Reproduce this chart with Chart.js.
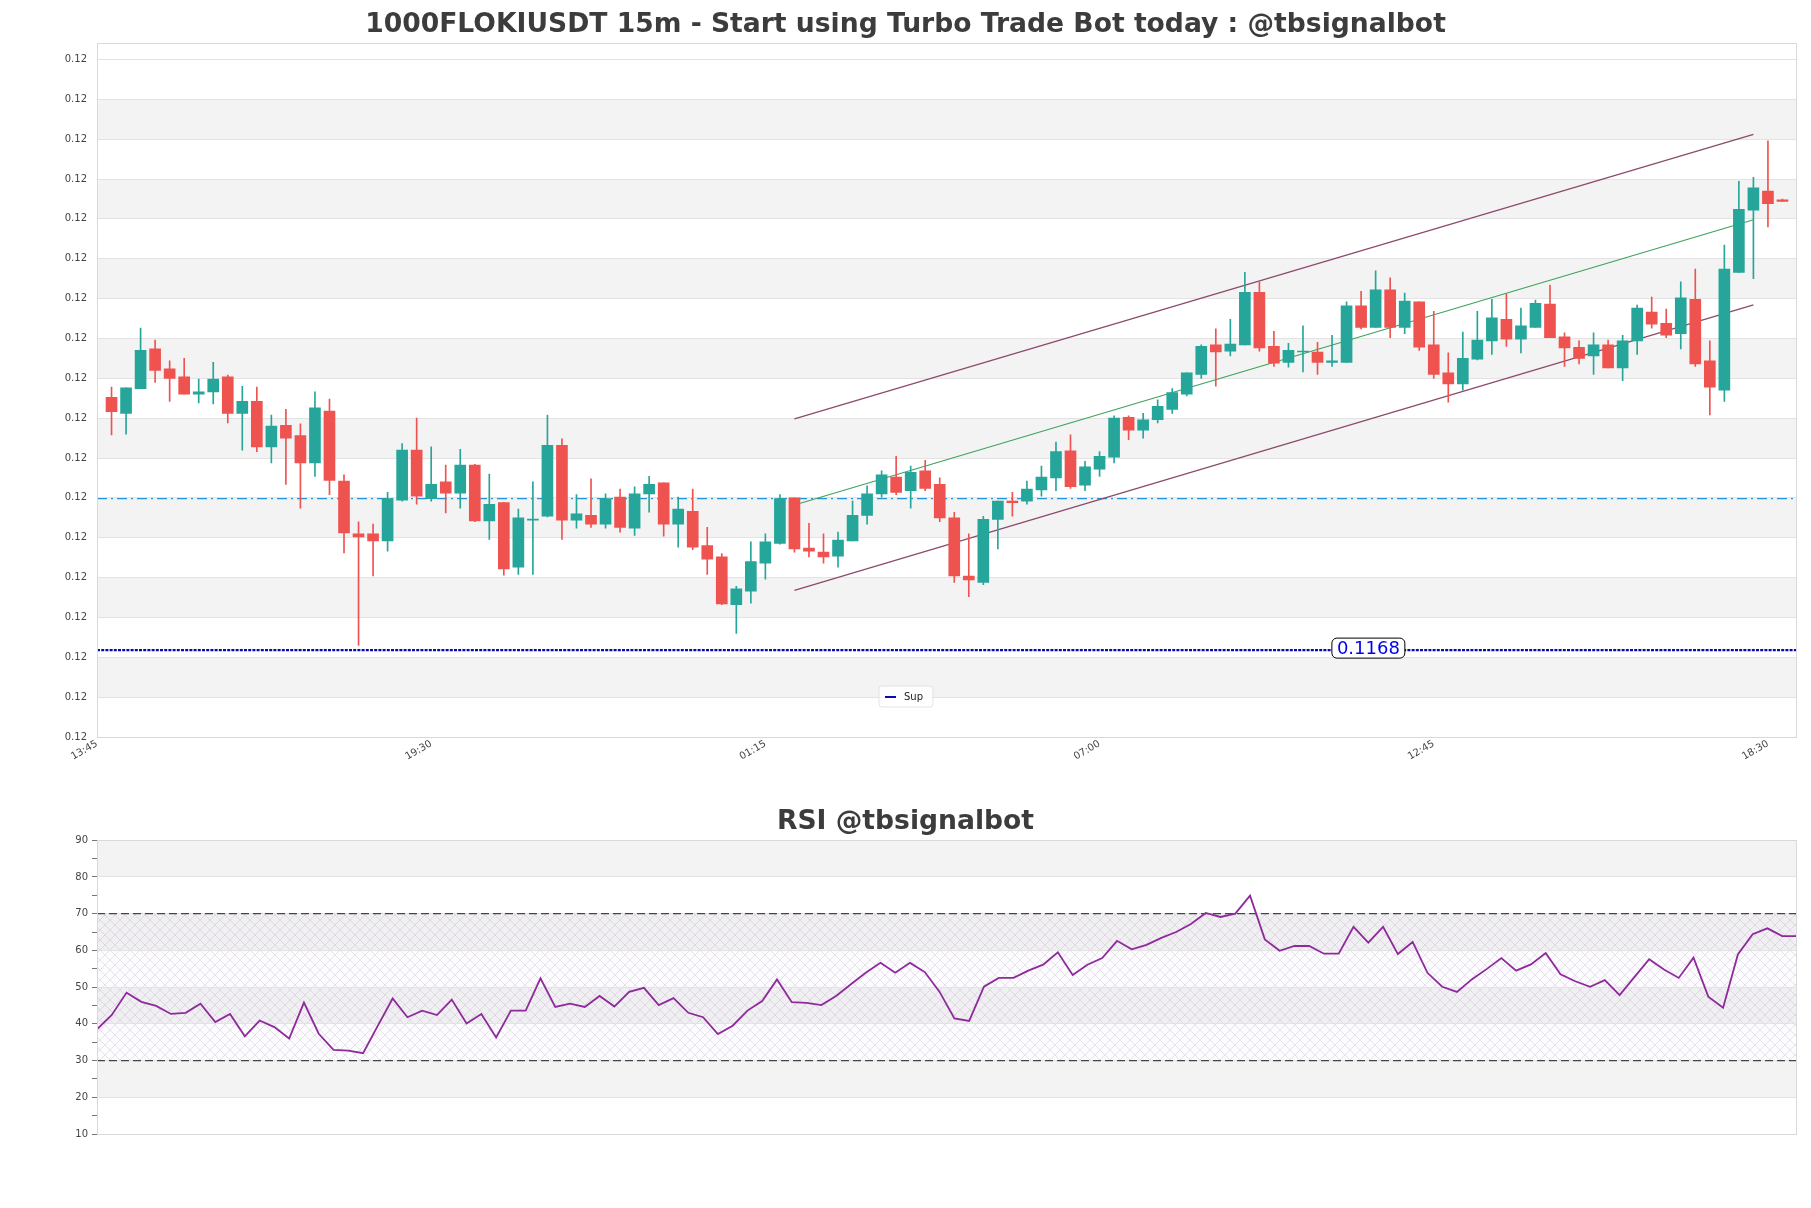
<!DOCTYPE html>
<html>
<head>
<meta charset="utf-8">
<title>1000FLOKIUSDT 15m</title>
<script src="https://cdn.jsdelivr.net/npm/chart.js@4.4.1/dist/chart.umd.min.js"></script>
<style>
    html, body { margin: 0; padding: 0; background: #ffffff; }
    canvas { display: block; }
</style>
</head>
<body>
<canvas id="priceChart" width="1811" height="790"></canvas>
<canvas id="rsiChart" width="1811" height="418"></canvas>
<script>
// === Data ===
var timeLabels = ['13:45', '19:30', '01:15', '07:00', '12:45', '18:30'];
var timeTickIdx = [0, 23, 46, 69, 92, 115];

// candles 1..116 (15m each)
var opens = [
    0.117076, 0.117056, 0.117087, 0.117137, 0.117112, 0.117102, 0.117080, 0.117083, 0.117102, 0.117056,
    0.117071, 0.117014, 0.117041, 0.117028, 0.116994, 0.117059, 0.116971, 0.116905, 0.116905, 0.116896,
    0.116947, 0.117010, 0.116949, 0.116970, 0.116956, 0.116991, 0.116921, 0.116944, 0.116863, 0.116922,
    0.116927, 0.117016, 0.116922, 0.116928, 0.116917, 0.116951, 0.116912, 0.116955, 0.116969, 0.116917,
    0.116933, 0.116890, 0.116876, 0.116816, 0.116833, 0.116868, 0.116893, 0.116950, 0.116887, 0.116882,
    0.116877, 0.116896, 0.116928, 0.116955, 0.116976, 0.116959, 0.116984, 0.116967, 0.116925, 0.116852,
    0.116844, 0.116923, 0.116946, 0.116946, 0.116960, 0.116975, 0.117009, 0.116966, 0.116986, 0.117001,
    0.117051, 0.117035, 0.117048, 0.117061, 0.117080, 0.117105, 0.117142, 0.117134, 0.117142, 0.117208,
    0.117140, 0.117120, 0.117133, 0.117133, 0.117120, 0.117120, 0.117191, 0.117164, 0.117211, 0.117164,
    0.117196, 0.117142, 0.117107, 0.117093, 0.117124, 0.117147, 0.117174, 0.117149, 0.117164, 0.117193,
    0.117152, 0.117139, 0.117128, 0.117142, 0.117113, 0.117147, 0.117183, 0.117169, 0.117156, 0.117199,
    0.117122, 0.117085, 0.117233, 0.117311, 0.117335, 0.117324
];
var highs = [
    0.117089, 0.117088, 0.117163, 0.117148, 0.117122, 0.117125, 0.117099, 0.117120, 0.117104, 0.117090,
    0.117089, 0.117054, 0.117061, 0.117043, 0.117083, 0.117074, 0.116979, 0.116920, 0.116917, 0.116957,
    0.117018, 0.117050, 0.117014, 0.116991, 0.117011, 0.116992, 0.116980, 0.116944, 0.116936, 0.116970,
    0.117054, 0.117024, 0.116954, 0.116974, 0.116955, 0.116961, 0.116964, 0.116977, 0.116969, 0.116951,
    0.116961, 0.116913, 0.116880, 0.116839, 0.116895, 0.116905, 0.116954, 0.116950, 0.116918, 0.116905,
    0.116907, 0.116946, 0.116965, 0.116984, 0.117002, 0.116990, 0.116997, 0.116975, 0.116932, 0.116905,
    0.116927, 0.116946, 0.116957, 0.116971, 0.116990, 0.117020, 0.117029, 0.116996, 0.117008, 0.117053,
    0.117053, 0.117056, 0.117073, 0.117087, 0.117107, 0.117142, 0.117162, 0.117174, 0.117233, 0.117221,
    0.117159, 0.117144, 0.117166, 0.117145, 0.117154, 0.117196, 0.117209, 0.117235, 0.117226, 0.117207,
    0.117196, 0.117184, 0.117132, 0.117158, 0.117184, 0.117199, 0.117206, 0.117188, 0.117198, 0.117217,
    0.117157, 0.117147, 0.117157, 0.117148, 0.117154, 0.117192, 0.117202, 0.117187, 0.117221, 0.117237,
    0.117147, 0.117267, 0.117347, 0.117352, 0.117398, 0.117325
];
var lows = [
    0.117029, 0.117030, 0.117087, 0.117095, 0.117071, 0.117080, 0.117069, 0.117068, 0.117044, 0.117010,
    0.117008, 0.116994, 0.116967, 0.116937, 0.116977, 0.116954, 0.116881, 0.116765, 0.116852, 0.116883,
    0.116946, 0.116942, 0.116946, 0.116931, 0.116937, 0.116920, 0.116898, 0.116853, 0.116854, 0.116854,
    0.116926, 0.116898, 0.116912, 0.116913, 0.116912, 0.116907, 0.116903, 0.116932, 0.116902, 0.116888,
    0.116885, 0.116854, 0.116816, 0.116780, 0.116818, 0.116848, 0.116892, 0.116882, 0.116876, 0.116868,
    0.116863, 0.116896, 0.116917, 0.116951, 0.116954, 0.116937, 0.116959, 0.116920, 0.116844, 0.116826,
    0.116841, 0.116886, 0.116927, 0.116942, 0.116952, 0.116959, 0.116962, 0.116959, 0.116977, 0.116994,
    0.117023, 0.117025, 0.117044, 0.117056, 0.117078, 0.117100, 0.117090, 0.117128, 0.117142, 0.117134,
    0.117115, 0.117114, 0.117108, 0.117105, 0.117115, 0.117120, 0.117162, 0.117164, 0.117151, 0.117156,
    0.117135, 0.117100, 0.117070, 0.117085, 0.117123, 0.117130, 0.117140, 0.117132, 0.117164, 0.117151,
    0.117115, 0.117118, 0.117105, 0.117113, 0.117097, 0.117130, 0.117163, 0.117151, 0.117137, 0.117115,
    0.117054, 0.117071, 0.117233, 0.117225, 0.117290, 0.117322
];
var closes = [
    0.117058, 0.117088, 0.117135, 0.117110, 0.117100, 0.117080, 0.117083, 0.117099, 0.117056, 0.117071,
    0.117014, 0.117040, 0.117025, 0.116994, 0.117063, 0.116972, 0.116906, 0.116901, 0.116896, 0.116949,
    0.117010, 0.116952, 0.116967, 0.116956, 0.116991, 0.116921, 0.116942, 0.116861, 0.116925, 0.116923,
    0.117016, 0.116922, 0.116930, 0.116917, 0.116949, 0.116913, 0.116955, 0.116967, 0.116917, 0.116936,
    0.116888, 0.116873, 0.116817, 0.116836, 0.116870, 0.116895, 0.116949, 0.116886, 0.116883, 0.116876,
    0.116897, 0.116928, 0.116955, 0.116979, 0.116957, 0.116982, 0.116962, 0.116925, 0.116852, 0.116847,
    0.116923, 0.116946, 0.116944, 0.116961, 0.116976, 0.117008, 0.116964, 0.116989, 0.117002, 0.117050,
    0.117035, 0.117048, 0.117065, 0.117082, 0.117107, 0.117140, 0.117133, 0.117143, 0.117208, 0.117138,
    0.117119, 0.117135, 0.117134, 0.117120, 0.117122, 0.117191, 0.117164, 0.117211, 0.117164, 0.117197,
    0.117139, 0.117105, 0.117093, 0.117125, 0.117148, 0.117176, 0.117149, 0.117166, 0.117194, 0.117151,
    0.117138, 0.117125, 0.117142, 0.117113, 0.117147, 0.117188, 0.117168, 0.117154, 0.117201, 0.117118,
    0.117089, 0.117237, 0.117312, 0.117339, 0.117319, 0.117322
];

// trend channel (start / end candle index and price)
var channelIdx = [48, 114];
var channelUpper = [0.117049, 0.117406];
var channelMid = [0.116941, 0.117299];
var channelLower = [0.116834, 0.117192];

var supportLevel = 0.116759;   // "Sup"
var pivotLevel = 0.116949;     // dash-dot line

// price axis ticks (all print as 0.12)
var priceTicks = [];
for (var k = 0; k < 18; k++) priceTicks.push(+(0.11665 + k * 0.00005).toFixed(5));

var rsiValues = [
    38.5, 42.4, 48.5, 46.0, 44.9, 42.7, 43.0, 45.5, 40.5, 42.7,
    36.6, 40.9, 39.1, 36.0, 45.8, 37.3, 32.9, 32.7, 32.0, 39.5,
    46.9, 41.8, 43.6, 42.4, 46.6, 40.1, 42.7, 36.3, 43.6, 43.6,
    52.4, 44.6, 45.5, 44.6, 47.6, 44.7, 48.7, 49.8, 45.1, 47.0,
    43.0, 41.8, 37.2, 39.5, 43.6, 46.2, 52.1, 45.9, 45.7, 45.1,
    47.6, 50.8, 53.9, 56.6, 53.9, 56.6, 54.1, 48.7, 41.5, 40.8,
    50.1, 52.5, 52.5, 54.5, 56.1, 59.5, 53.3, 56.1, 57.9, 62.6,
    60.3, 61.5, 63.4, 65.0, 67.2, 70.2, 69.1, 70.0, 74.9, 63.0,
    59.9, 61.2, 61.2, 59.1, 59.1, 66.4, 62.1, 66.4, 59.0, 62.3,
    53.9, 50.1, 48.7, 52.1, 54.9, 57.9, 54.5, 56.2, 59.3, 53.5,
    51.6, 50.1, 51.9, 47.8, 52.7, 57.6, 54.8, 52.5, 58.0, 47.4,
    44.4, 58.9, 64.4, 66.0, 63.9, 63.9
];
var rsiBounds = [30, 70];
var rsiTicks = [10, 20, 30, 40, 50, 60, 70, 80, 90];

// === Styles ===
var UP = '#26a69a';
var DOWN = '#ef5350';
var BAND = '#f3f3f3';
var GRID = '#e3e3e3';
var FRAME = '#d9d9d9';
var FONT = "'DejaVu Sans', sans-serif";

Chart.defaults.font.family = FONT;
Chart.defaults.color = '#444444';

function linePoints(xs, ys) {
    return xs.map(function(x, i) { return { x: x, y: ys[i] }; });
}

function strokeFrame(ctx, area) {
    ctx.save();
    ctx.strokeStyle = FRAME;
    ctx.lineWidth = 1;
    ctx.strokeRect(Math.round(area.left) + 0.5, Math.round(area.top) + 0.5,
        Math.round(area.right - area.left) - 1, Math.round(area.bottom - area.top));
    ctx.restore();
}

// --- Price chart ---
var candleIdx = opens.map(function(_, i) { return i + 1; });
var candleColors = opens.map(function(o, i) { return closes[i] >= o ? UP : DOWN; });

var priceDecor = {
    id: 'priceDecor',
    beforeDraw: function(chart) {
        var ctx = chart.ctx, area = chart.chartArea, y = chart.scales.y;
        ctx.save();
        ctx.fillStyle = BAND;
        for (var k = 2; k < priceTicks.length; k += 2) {
            var top = y.getPixelForValue(priceTicks[k]);
            var bot = y.getPixelForValue(priceTicks[k - 1]);
            ctx.fillRect(area.left, top, area.right - area.left, bot - top);
        }
        ctx.restore();
    },
    afterDatasetsDraw: function(chart) {
        var ctx = chart.ctx;
        // support value tag
        var text = supportLevel.toFixed(4);
        var cx = chart.scales.x.getPixelForValue(87.5);
        var cy = chart.scales.y.getPixelForValue(supportLevel) - 2;
        ctx.save();
        ctx.font = '18px ' + FONT;
        var w = ctx.measureText(text).width + 10, h = 20;
        ctx.beginPath();
        ctx.roundRect(cx - w / 2, cy - h / 2, w, h, 5);
        ctx.fillStyle = '#ffffff';
        ctx.fill();
        ctx.lineWidth = 1;
        ctx.strokeStyle = '#000000';
        ctx.stroke();
        ctx.fillStyle = '#0000ee';
        ctx.textAlign = 'center';
        ctx.textBaseline = 'middle';
        ctx.fillText(text, cx, cy + 1);

        // legend box
        ctx.beginPath();
        ctx.roundRect(879, 686, 54, 21, 3);
        ctx.fillStyle = 'rgba(255,255,255,0.8)';
        ctx.fill();
        ctx.strokeStyle = 'rgba(220,220,220,0.8)';
        ctx.stroke();
        ctx.strokeStyle = '#0a0ab4';
        ctx.lineWidth = 2;
        ctx.beginPath();
        ctx.moveTo(885, 697);
        ctx.lineTo(896, 697);
        ctx.stroke();
        ctx.font = '10px ' + FONT;
        ctx.fillStyle = '#222222';
        ctx.textAlign = 'left';
        ctx.fillText('Sup', 904, 697);
        ctx.restore();
    },
    afterDraw: function(chart) {
        strokeFrame(chart.ctx, chart.chartArea);
    }
};

new Chart(document.getElementById('priceChart'), {
    type: 'bar',
    data: {
        datasets: [
            {
                label: 'body',
                data: candleIdx.map(function(x, i) { return { x: x, y: [opens[i], closes[i]] }; }),
                backgroundColor: candleColors,
                borderWidth: 0,
                barThickness: 11,
                minBarLength: 1,
                grouped: false,
                order: 0
            },
            {
                label: 'wick',
                data: candleIdx.map(function(x, i) { return { x: x, y: [lows[i], highs[i]] }; }),
                backgroundColor: candleColors,
                borderWidth: 0,
                barThickness: 1,
                grouped: false,
                order: 1
            },
            {
                type: 'line', label: 'upper',
                data: linePoints(channelIdx, channelUpper),
                borderColor: '#8c4a6c', borderWidth: 1.3, pointRadius: 0, order: 3
            },
            {
                type: 'line', label: 'lower',
                data: linePoints(channelIdx, channelLower),
                borderColor: '#8c4a6c', borderWidth: 1.3, pointRadius: 0, order: 3
            },
            {
                type: 'line', label: 'mid',
                data: linePoints(channelIdx, channelMid),
                borderColor: '#3da35a', borderWidth: 1.1, pointRadius: 0, order: 3
            },
            {
                type: 'line', label: 'pivot',
                data: linePoints([0, 117], [pivotLevel, pivotLevel]),
                borderColor: '#2196dc', borderWidth: 1.3, borderDash: [10, 4, 2, 4],
                pointRadius: 0, order: 4
            },
            {
                type: 'line', label: 'Sup',
                data: linePoints([0, 117], [supportLevel, supportLevel]),
                borderColor: '#0a0ab4', borderWidth: 2.2, borderDash: [3, 1.2],
                pointRadius: 0, order: 4
            }
        ]
    },
    options: {
        responsive: false,
        animation: false,
        events: [],
        layout: { padding: { left: 14, right: 14, top: 0, bottom: 0 } },
        plugins: {
            legend: { display: false },
            tooltip: { enabled: false },
            title: {
                display: true,
                text: '1000FLOKIUSDT 15m - Start using Turbo Trade Bot today : @tbsignalbot',
                color: '#3c3c3c',
                font: { size: 26.6, weight: 'bold' },
                padding: { top: 9, bottom: 2.3 }
            }
        },
        scales: {
            x: {
                type: 'linear',
                min: 0,
                max: 117,
                offset: false,
                grid: { display: false, drawTicks: false },
                border: { display: false },
                afterBuildTicks: function(scale) {
                    scale.ticks = timeTickIdx.map(function(v) { return { value: v }; });
                },
                afterFit: function(scale) { scale.height = 53; },
                ticks: {
                    autoSkip: false,
                    minRotation: 30,
                    maxRotation: 30,
                    padding: 1,
                    font: { size: 10 },
                    callback: function(v) {
                        var i = timeTickIdx.indexOf(v);
                        return i >= 0 ? timeLabels[i] : '';
                    }
                }
            },
            y: {
                type: 'linear',
                min: 0.11665,
                max: 0.1175204,
                beginAtZero: false,
                grid: { color: GRID, drawTicks: false },
                border: { display: false },
                afterBuildTicks: function(scale) {
                    scale.ticks = priceTicks.map(function(v) { return { value: v }; });
                },
                afterFit: function(scale) { scale.width = 83; },
                ticks: {
                    autoSkip: false,
                    padding: 10,
                    font: { size: 10 },
                    callback: function(v) { return Number(v).toFixed(2); }
                }
            }
        }
    },
    plugins: [priceDecor]
});

// --- RSI chart ---
var hatchPattern = null;
function getHatch(ctx) {
    if (hatchPattern) return hatchPattern;
    var c = document.createElement('canvas');
    c.width = 10; c.height = 10;
    var g = c.getContext('2d');
    g.strokeStyle = 'rgba(185,165,195,0.45)';
    g.lineWidth = 0.7;
    g.beginPath();
    g.moveTo(0, 0); g.lineTo(10, 10);
    g.moveTo(10, 0); g.lineTo(0, 10);
    g.stroke();
    hatchPattern = ctx.createPattern(c, 'repeat');
    return hatchPattern;
}

var rsiDecor = {
    id: 'rsiDecor',
    beforeDraw: function(chart) {
        var ctx = chart.ctx, area = chart.chartArea, y = chart.scales.y;
        var w = area.right - area.left;
        ctx.save();
        ctx.fillStyle = BAND;
        for (var i = 1; i + 1 < rsiTicks.length; i += 2) {
            var top = y.getPixelForValue(rsiTicks[i + 1]);
            var bot = y.getPixelForValue(rsiTicks[i]);
            ctx.fillRect(area.left, top, w, bot - top);
        }
        var hTop = y.getPixelForValue(rsiBounds[1]);
        var hBot = y.getPixelForValue(rsiBounds[0]);
        ctx.fillStyle = 'rgba(200,170,210,0.05)';
        ctx.fillRect(area.left, hTop, w, hBot - hTop);
        ctx.fillStyle = getHatch(ctx);
        ctx.fillRect(area.left, hTop, w, hBot - hTop);
        ctx.restore();
    },
    afterDraw: function(chart) {
        strokeFrame(chart.ctx, chart.chartArea);
    }
};

var lastRsi = rsiValues.length - 1;

new Chart(document.getElementById('rsiChart'), {
    type: 'line',
    data: {
        datasets: [
            {
                label: 'RSI',
                data: rsiValues.map(function(v, i) { return { x: i, y: v }; }),
                borderColor: '#8e2a9c',
                borderWidth: 1.8,
                pointRadius: 0,
                tension: 0,
                order: 0
            },
            {
                label: 'overbought',
                data: linePoints([0, lastRsi], [rsiBounds[1], rsiBounds[1]]),
                borderColor: '#444444', borderWidth: 1.3, borderDash: [8, 4],
                pointRadius: 0, order: 1
            },
            {
                label: 'oversold',
                data: linePoints([0, lastRsi], [rsiBounds[0], rsiBounds[0]]),
                borderColor: '#444444', borderWidth: 1.3, borderDash: [8, 4],
                pointRadius: 0, order: 1
            }
        ]
    },
    options: {
        responsive: false,
        animation: false,
        events: [],
        layout: { padding: { left: 14, right: 14, top: 0, bottom: 74 } },
        plugins: {
            legend: { display: false },
            tooltip: { enabled: false },
            title: {
                display: true,
                text: 'RSI @tbsignalbot',
                color: '#3c3c3c',
                font: { size: 26.6, weight: 'bold' },
                padding: { top: 16, bottom: 2.3 }
            }
        },
        scales: {
            x: {
                type: 'linear',
                min: 0,
                max: lastRsi,
                display: false
            },
            y: {
                type: 'linear',
                min: 10,
                max: 90,
                border: { display: false },
                afterFit: function(scale) { scale.width = 83; },
                grid: {
                    tickLength: 5,
                    color: function(c) { return c.tick && c.tick.value % 10 === 0 ? GRID : 'rgba(0,0,0,0)'; },
                    tickColor: '#777777'
                },
                ticks: {
                    stepSize: 5,
                    autoSkip: false,
                    padding: 4,
                    font: { size: 10 },
                    callback: function(v) { return v % 10 === 0 ? String(v) : ''; }
                }
            }
        }
    },
    plugins: [rsiDecor]
});
</script>
</body>
</html>
